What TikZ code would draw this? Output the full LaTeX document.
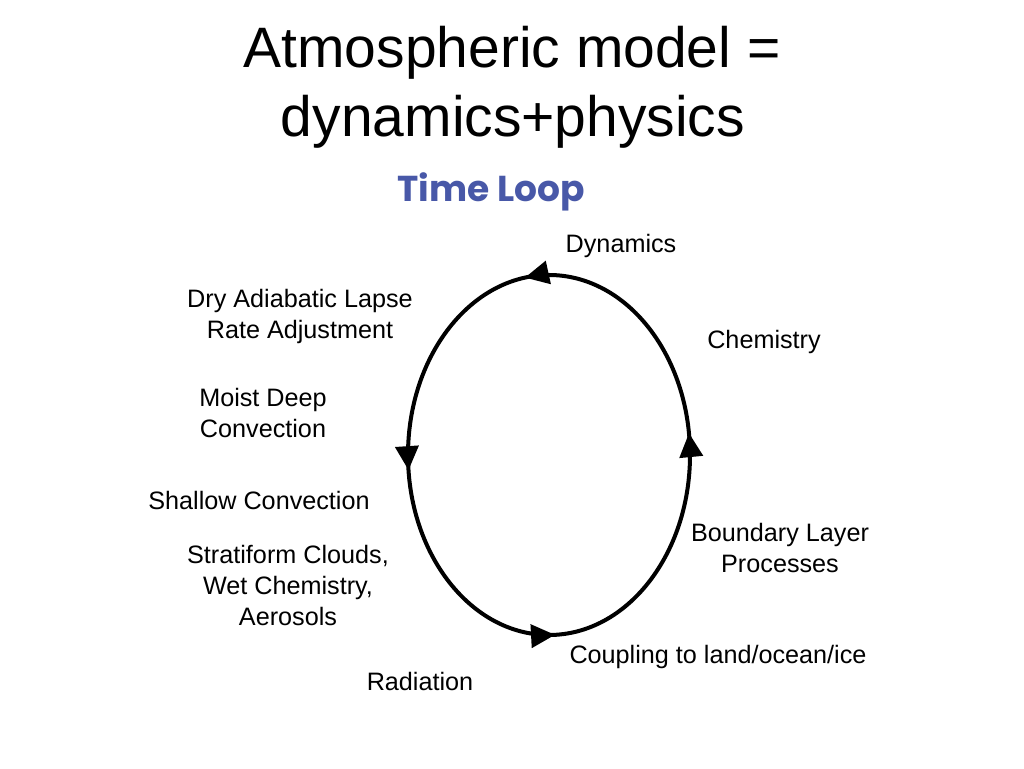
\documentclass[tikz,border=0pt]{standalone}
\usepackage{fontspec}
\setmainfont{Liberation Sans}
\newfontfamily\loopfont{Poppins}[UprightFont=* Bold]
\usetikzlibrary{arrows.meta,decorations.markings}
\definecolor{loopblue}{RGB}{72,88,168}
\tikzset{
  lbl/.style={font=\fontsize{25.2}{31}\selectfont, align=center, inner sep=0pt, text=black},
  ttl/.style={font=\fontsize{57}{69}\selectfont, inner sep=0pt, anchor=base},
  loophead/.tip={Triangle[length=24pt,width=23pt]},
}
\begin{document}
\begin{tikzpicture}[x=1pt,y=1pt]
\useasboundingbox (0,0) rectangle (1024,768);
\fill[white] (0,0) rectangle (1024,768);
% title
\node[ttl] (title1) at (512,700) {Atmospheric model =};
\node[ttl] (title2) at (513,631) {dynamics+physics};
\node[font=\loopfont\fontsize{36}{40}\selectfont, text=loopblue, inner sep=0pt] (loop) at (491,576) {Time Loop};
% ellipse
\coordinate (c) at (549,313);
\draw[line width=4pt,
  postaction={decorate},
  decoration={markings,
    mark=at position 0.0217 with {\arrow{loophead}},
    mark=at position 0.274 with {\arrow{loophead}},
    mark=at position 0.515 with {\arrow{loophead}},
    mark=at position 0.756 with {\arrow{loophead}}}]
  (c) ++(141,0) arc[start angle=0,end angle=360,x radius=141,y radius=180];
% labels
\node[lbl] (dyn) at (621,522) {Dynamics};
\node[lbl] (dry) at (300,452) {Dry Adiabatic Lapse\\Rate Adjustment};
\node[lbl] (moist) at (263,355) {Moist Deep\\Convection};
\node[lbl] (shallow) at (259,268) {Shallow Convection};
\node[lbl] (strat) at (288,183) {Stratiform Clouds,\\Wet Chemistry,\\Aerosols};
\node[lbl] (rad) at (420,87) {Radiation};
\node[lbl] (chem) at (764,426) {Chemistry};
\node[lbl] (bl) at (780,220) {Boundary Layer\\Processes};
\node[lbl] (coup) at (718,111) {Coupling to land/ocean/ice};
\end{tikzpicture}
\end{document}
